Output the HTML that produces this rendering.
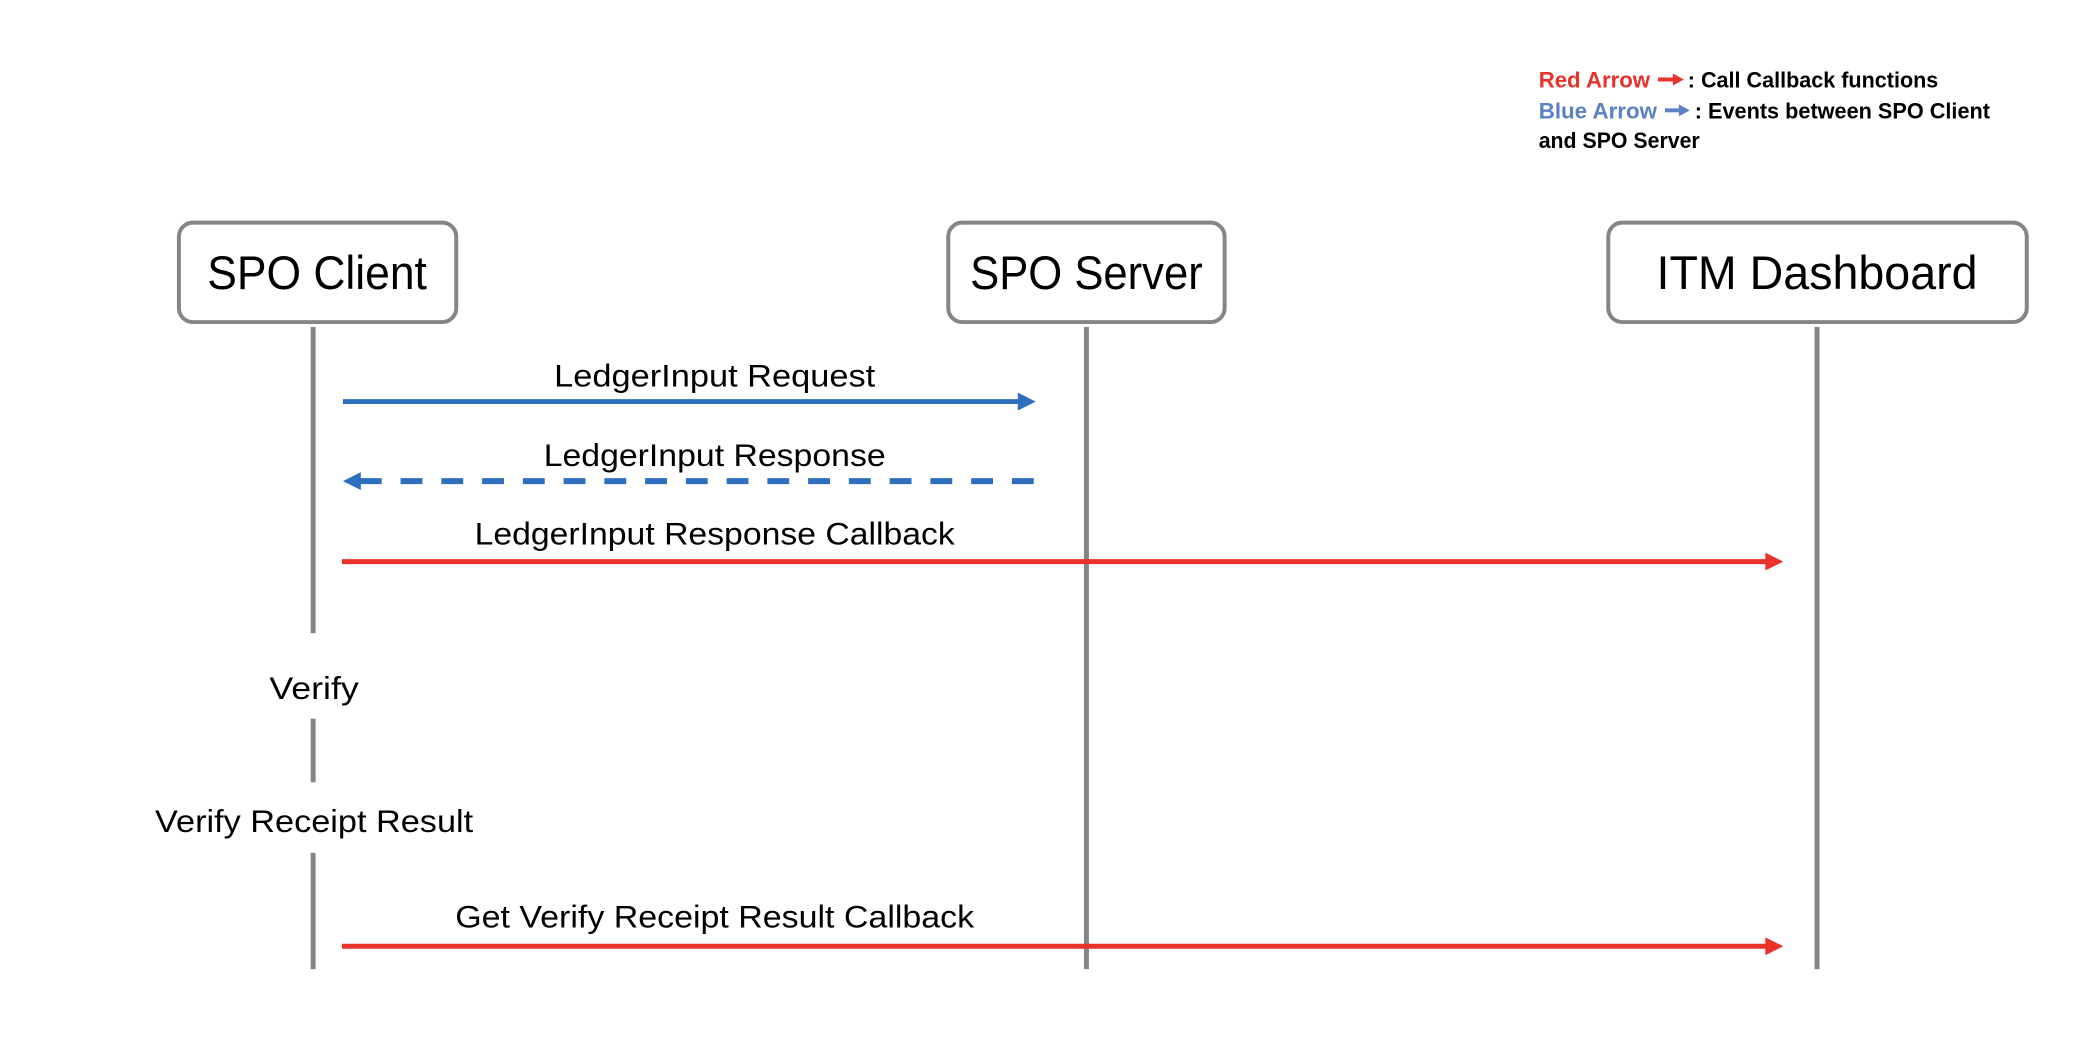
<!DOCTYPE html>
<html><head><meta charset="utf-8"><style>
html,body{margin:0;padding:0;background:#fff;}
svg{display:block;}
text{font-family:"Liberation Sans",sans-serif;}
</style></head><body>
<svg width="2086" height="1046" viewBox="0 0 2086 1046" xmlns="http://www.w3.org/2000/svg">
<g transform="scale(0.994)">
<!-- legend -->
<g font-weight="bold" font-size="22">
<text x="1548" y="88" fill="#e8322a" textLength="112" lengthAdjust="spacingAndGlyphs">Red Arrow</text>
<line x1="1668" y1="80" x2="1684" y2="80" stroke="#e8322a" stroke-width="4"/>
<polygon points="1683,74 1694,80 1683,86" fill="#e8322a"/>
<text x="1698" y="88" fill="#000" textLength="252" lengthAdjust="spacingAndGlyphs">: Call Callback functions</text>
<text x="1548" y="119" fill="#5b80c4" textLength="119" lengthAdjust="spacingAndGlyphs">Blue Arrow</text>
<line x1="1675" y1="111" x2="1690" y2="111" stroke="#5b80c4" stroke-width="4"/>
<polygon points="1689,105 1700,111 1689,117" fill="#5b80c4"/>
<text x="1705" y="119" fill="#000" textLength="297" lengthAdjust="spacingAndGlyphs">: Events between SPO Client</text>
<text x="1548" y="149" fill="#000" textLength="162" lengthAdjust="spacingAndGlyphs">and SPO Server</text>
</g>
<!-- boxes -->
<g fill="#fff" stroke="#858585" stroke-width="4">
<rect x="180" y="224" width="279" height="100" rx="14"/>
<rect x="954" y="224" width="278" height="100" rx="14"/>
<rect x="1618" y="224" width="421" height="100" rx="14"/>
</g>
<g font-size="48" fill="#000" text-anchor="middle">
<text x="319" y="291" textLength="221" lengthAdjust="spacingAndGlyphs">SPO Client</text>
<text x="1093" y="291" textLength="234" lengthAdjust="spacingAndGlyphs">SPO Server</text>
<text x="1828" y="291" textLength="323" lengthAdjust="spacingAndGlyphs">ITM Dashboard</text>
</g>
<!-- lifelines -->
<g stroke="#858585" stroke-width="5">
<line x1="315" y1="329" x2="315" y2="637"/>
<line x1="315" y1="723" x2="315" y2="787"/>
<line x1="315" y1="858" x2="315" y2="975"/>
<line x1="1093" y1="329" x2="1093" y2="975"/>
<line x1="1828" y1="329" x2="1828" y2="975"/>
</g>
<!-- arrows -->
<line x1="345" y1="404" x2="1026" y2="404" stroke="#2f6fbf" stroke-width="5"/>
<polygon points="1024,395 1042,404 1024,413" fill="#2f6fbf"/>
<line x1="362" y1="484" x2="1042" y2="484" stroke="#2f6fbf" stroke-width="6" stroke-dasharray="22,19"/>
<polygon points="363,475 345,484 363,493" fill="#2f6fbf"/>
<line x1="344" y1="565" x2="1778" y2="565" stroke="#e8322a" stroke-width="5"/>
<polygon points="1776,556 1794,565 1776,574" fill="#e8322a"/>
<line x1="344" y1="952" x2="1778" y2="952" stroke="#e8322a" stroke-width="5"/>
<polygon points="1776,943 1794,952 1776,961" fill="#e8322a"/>
<!-- labels -->
<g font-size="32" fill="#000" text-anchor="middle">
<text x="719" y="389" textLength="323" lengthAdjust="spacingAndGlyphs">LedgerInput Request</text>
<text x="719" y="469" textLength="344" lengthAdjust="spacingAndGlyphs">LedgerInput Response</text>
<text x="719" y="548" textLength="483" lengthAdjust="spacingAndGlyphs">LedgerInput Response Callback</text>
<text x="316" y="703" textLength="90" lengthAdjust="spacingAndGlyphs">Verify</text>
<text x="316" y="837" textLength="320" lengthAdjust="spacingAndGlyphs">Verify Receipt Result</text>
<text x="719" y="933" textLength="522" lengthAdjust="spacingAndGlyphs">Get Verify Receipt Result Callback</text>
</g>
</g>
</svg>
</body></html>
